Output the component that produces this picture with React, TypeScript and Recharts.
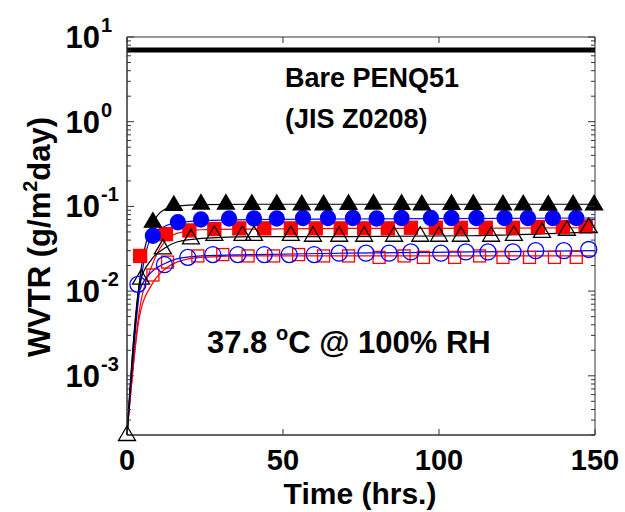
import React from 'react';
import { ComposedChart, Line, XAxis, YAxis, ReferenceArea } from 'recharts';

// x ticks (hrs) and log decades
const X_TICKS = [0, 50, 100, 150];
const DECADES = [1e-3, 1e-2, 1e-1, 1, 10];
const EXPONENTS = ['-3', '-2', '-1', '0', '1'];
const MINOR_MULT = [2, 3, 4, 5, 6, 7, 8, 9];
const MINOR_BASES = [1e-4, 1e-3, 1e-2, 1e-1, 1];

// bare film reference level
const BARE_T = [0, 150];
const BARE_V = [7, 7];

// fitted curves
const FIT_T = [0, 4, 8, 12, 16, 24, 40, 70, 110, 150];
const FIT_FT = [0.0002, 0.013, 0.06, 0.092, 0.101, 0.105, 0.106, 0.106, 0.106, 0.106];
const FIT_FB = [0.0002, 0.01, 0.045, 0.058, 0.064, 0.068, 0.07, 0.071, 0.072, 0.073];
const FIT_FR = [0.0002, 0.006, 0.02, 0.038, 0.048, 0.053, 0.054, 0.055, 0.055, 0.056];
const FIT_OT = [0.0002, 0.012, 0.024, 0.032, 0.038, 0.042, 0.044, 0.044, 0.045, 0.05];
const FIT_OB = [0.0002, 0.01, 0.017, 0.021, 0.024, 0.026, 0.027, 0.028, 0.029, 0.03];
const FIT_OR = [0.0002, 0.005, 0.012, 0.018, 0.022, 0.025, 0.026, 0.026, 0.026, 0.026];

// measured points
const FT_T = [8.3, 15, 23.7, 31.7, 40, 48, 56, 63, 71, 79, 88, 94.5, 104, 111, 120.5, 127, 135, 143, 149.7];
const FT_V = [0.066, 0.104, 0.108, 0.108, 0.107, 0.107, 0.106, 0.106, 0.107, 0.108, 0.107, 0.106, 0.107, 0.107, 0.106, 0.106, 0.105, 0.106, 0.106];
const FB_T = [8.3, 16.3, 23.7, 32.7, 40.7, 48, 56.4, 64.4, 72.4, 80, 88, 97.4, 104, 112, 121, 128.5, 136.5, 144];
const FB_V = [0.045, 0.065, 0.07, 0.072, 0.072, 0.072, 0.073, 0.073, 0.073, 0.072, 0.073, 0.073, 0.073, 0.073, 0.073, 0.073, 0.073, 0.073];
const FR_T = [4.2, 12.5, 20, 28, 36, 44, 52.5, 60.5, 68.5, 76, 83.6, 91, 99, 107, 115, 123.7, 131.7, 139.7, 147];
const FR_V = [0.026, 0.047, 0.052, 0.054, 0.055, 0.055, 0.055, 0.055, 0.055, 0.055, 0.055, 0.056, 0.056, 0.056, 0.056, 0.056, 0.057, 0.057, 0.058];
const OT_T = [0, 4.5, 11.5, 20.5, 28, 37, 40.7, 52.5, 59.6, 68, 76, 85.6, 94, 100, 107, 116.7, 124, 133, 141, 148];
const OT_V = [0.0002, 0.014, 0.032, 0.042, 0.046, 0.046, 0.046, 0.046, 0.045, 0.045, 0.045, 0.045, 0.045, 0.045, 0.045, 0.045, 0.046, 0.05, 0.053, 0.057];
const OB_T = [3.5, 12, 19.5, 27.5, 35.5, 44, 52, 60, 68, 76.6, 84, 91, 100.6, 108.6, 115.7, 123.7, 131, 140, 148];
const OB_V = [0.012, 0.0205, 0.025, 0.027, 0.027, 0.027, 0.027, 0.027, 0.028, 0.028, 0.028, 0.029, 0.028, 0.029, 0.029, 0.029, 0.03, 0.03, 0.031];
const OR_T = [8.3, 13, 22.7, 30.7, 38.8, 47, 55, 63, 71, 80.8, 88.8, 95, 105, 113, 120.5, 129, 137, 144];
const OR_V = [0.0155, 0.022, 0.026, 0.027, 0.026, 0.026, 0.027, 0.026, 0.026, 0.025, 0.026, 0.025, 0.025, 0.026, 0.025, 0.025, 0.025, 0.025];

const rows = (t: number[], v: number[]) => t.map((x, i) => ({ t: x, v: v[i] }));

const W = 625;
const H = 512;
const M = { top: 37, right: 30, bottom: 0, left: 0 };
const Y_W = 127;
const X_H = 77;
const PW = W - M.left - M.right - Y_W;
const PH = H - M.top - M.bottom - X_H;
const FONT = '"Liberation Sans", Arial, sans-serif';
const MINOR_TICKS = MINOR_BASES.flatMap(b => MINOR_MULT.map(m => +(m * b).toPrecision(3)));
const Y_TICKS = [...MINOR_TICKS, ...DECADES];

const decadeIndex = (v: number) => DECADES.findIndex(d => Math.abs(v / d - 1) < 1e-6);

function YTick(props: any) {
    const { x, y, payload } = props;
    const idx = decadeIndex(payload.value);
    const major = idx >= 0;
    const len = major ? 7 : 4;
    return (
        <g>
            <line x1={x} y1={y} x2={x + len} y2={y} stroke="#333" />
            <line x1={x + PW} y1={y} x2={x + PW - len} y2={y} stroke="#333" />
            {major && (
                <>
                    <text x={x - 27} y={y + 11} textAnchor="end" fontSize={31} fontWeight="bold" fontFamily={FONT} fill="#000">10</text>
                    <text x={x - 26} y={y - 5} textAnchor="start" fontSize={20} fontWeight="bold" fontFamily={FONT} fill="#000">{EXPONENTS[idx]}</text>
                </>
            )}
        </g>
    );
}

function XTick(props: any) {
    const { x, y, payload } = props;
    return (
        <g>
            <line x1={x} y1={y} x2={x} y2={y - 6} stroke="#333" />
            <line x1={x} y1={y - PH} x2={x} y2={y - PH + 6} stroke="#333" />
            <text x={x} y={y + 35} textAnchor="middle" fontSize={29} fontWeight="bold" fontFamily={FONT} fill="#000">{payload.value}</text>
        </g>
    );
}

const marker = (kind: string, color: string, filled: boolean) => (p: any) => {
    const { cx, cy, index } = p;
    if (cx == null || cy == null) return <g key={index} />;
    const fill = filled ? color : 'none';
    if (kind === 'tri') {
        const pts = `${cx},${cy - 9} ${cx - 8.5},${cy + 5.5} ${cx + 8.5},${cy + 5.5}`;
        return <polygon key={index} points={pts} fill={fill} stroke={color} strokeWidth={1.3} />;
    }
    if (kind === 'circ') {
        return <circle key={index} cx={cx} cy={cy} r={filled ? 7.5 : 8} fill={fill} stroke={color} strokeWidth={1.3} />;
    }
    const s = filled ? 13 : 12;
    return <rect key={index} x={cx - s / 2} y={cy - s / 2} width={s} height={s} fill={fill} stroke={color} strokeWidth={1.3} />;
};

const fits = [
    { v: FIT_FR, c: '#ff0000' },
    { v: FIT_OR, c: '#ff0000' },
    { v: FIT_FB, c: '#0000ff' },
    { v: FIT_OB, c: '#0000ff' },
    { v: FIT_FT, c: '#000000' },
    { v: FIT_OT, c: '#000000' },
];

const points = [
    { t: FR_T, v: FR_V, kind: 'sq', c: '#ff0000', f: true },
    { t: FB_T, v: FB_V, kind: 'circ', c: '#0000ff', f: true },
    { t: FT_T, v: FT_V, kind: 'tri', c: '#000000', f: true },
    { t: OR_T, v: OR_V, kind: 'sq', c: '#ff0000', f: false },
    { t: OT_T, v: OT_V, kind: 'tri', c: '#000000', f: false },
    { t: OB_T, v: OB_V, kind: 'circ', c: '#0000ff', f: false },
];

export default function App() {
    const txt = { fontFamily: FONT, fontWeight: 'bold' as const, fill: '#000' };
    return (
        <div style={{ position: 'absolute', left: 0, top: 0, width: W, height: H, background: '#fff' }}>
            <ComposedChart width={W} height={H} margin={M}>
                <XAxis type="number" dataKey="t" domain={[0, 150]} ticks={X_TICKS} interval={0}
                    tick={<XTick />} tickLine={false} tickSize={0} tickMargin={0} height={X_H}
                    axisLine={{ stroke: '#333' }} />
                <YAxis type="number" dataKey="v" scale="log" domain={[2e-4, 10]} ticks={Y_TICKS} interval={0}
                    tick={<YTick />} tickLine={false} tickSize={0} tickMargin={0} width={Y_W}
                    axisLine={{ stroke: '#333' }} />
                <ReferenceArea x1={0} x2={150} y1={2e-4} y2={10} fill="none" stroke="#333" ifOverflow="visible" />
                <Line data={rows(BARE_T, BARE_V)} dataKey="v" stroke="#000" strokeWidth={5} dot={false}
                    activeDot={false} isAnimationActive={false} />
                {fits.map((s, i) => (
                    <Line key={`fit-${i}`} data={rows(FIT_T, s.v)} dataKey="v" type="monotone" stroke={s.c}
                        strokeWidth={1.2} dot={false} activeDot={false} isAnimationActive={false} />
                ))}
                {points.map((s, i) => (
                    <Line key={`pts-${i}`} data={rows(s.t, s.v)} dataKey="v" stroke="none" strokeWidth={0}
                        dot={marker(s.kind, s.c, s.f)} activeDot={false} isAnimationActive={false} />
                ))}
            </ComposedChart>
            <svg width={W} height={H} style={{ position: 'absolute', left: 0, top: 0, pointerEvents: 'none' }}>
                <text x={285} y={87} fontSize={27} {...txt}>Bare PENQ51</text>
                <text x={285} y={128} fontSize={27} {...txt}>(JIS Z0208)</text>
                <text x={207} y={353} fontSize={31} {...txt}>
                    37.8 <tspan dy={-13} fontSize={20}>o</tspan><tspan dy={13}>C @ 100% RH</tspan>
                </text>
                <text x={360} y={504} textAnchor="middle" fontSize={30} {...txt}>Time (hrs.)</text>
                <text transform="translate(50,237) rotate(-90)" textAnchor="middle" fontSize={31} {...txt}>
                    WVTR (g/m<tspan dy={-13} fontSize={20}>2</tspan><tspan dy={13}>day)</tspan>
                </text>
            </svg>
        </div>
    );
}
